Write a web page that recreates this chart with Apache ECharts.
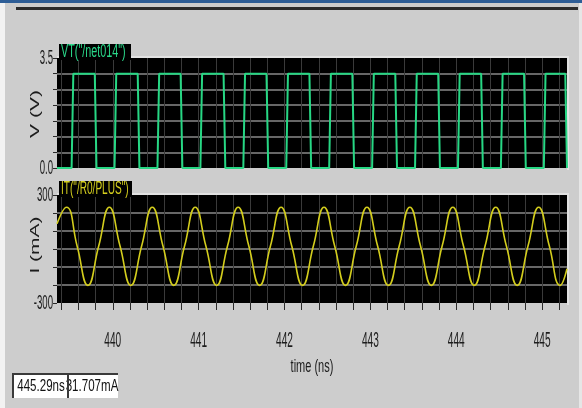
<!DOCTYPE html>
<html>
<head>
<meta charset="utf-8">
<script src="https://cdn.jsdelivr.net/npm/echarts@6/dist/echarts.min.js"></script>
<style>
  html, body { margin: 0; padding: 0; background: #cdcdcd; }
  #chart { width: 582px; height: 408px; }
</style>
</head>
<body>
<div id="chart"></div>
<script>
const FONT = "'Liberation Sans', Arial, sans-serif";

// Time window of the transient plot (ns)
const tStart = 439.35;
const tEnd = 445.29;

// VT("/net014"): clock node voltage (ns, V)
const vTime = [439.35,
  439.52, 439.54, 439.79, 439.81,
  440.02, 440.04, 440.29, 440.31,
  440.52, 440.54, 440.79, 440.81,
  441.02, 441.04, 441.29, 441.31,
  441.52, 441.54, 441.79, 441.81,
  442.02, 442.04, 442.29, 442.31,
  442.52, 442.54, 442.79, 442.81,
  443.02, 443.04, 443.29, 443.31,
  443.52, 443.54, 443.79, 443.81,
  444.02, 444.04, 444.29, 444.31,
  444.52, 444.54, 444.79, 444.81,
  445.02, 445.04, 445.27, 445.29];
const vVolt = [0.0,
  0.0, 3.0, 3.0, 0.0,
  0.0, 3.0, 3.0, 0.0,
  0.0, 3.0, 3.0, 0.0,
  0.0, 3.0, 3.0, 0.0,
  0.0, 3.0, 3.0, 0.0,
  0.0, 3.0, 3.0, 0.0,
  0.0, 3.0, 3.0, 0.0,
  0.0, 3.0, 3.0, 0.0,
  0.0, 3.0, 3.0, 0.0,
  0.0, 3.0, 3.0, 0.0,
  0.0, 3.0, 3.0, 0.0,
  0.0, 3.0, 3.0, 0.0];

// IT("/R0/PLUS"): load current (ns, mA)
const iTime = [439.35,
  439.46, 439.585, 439.71, 439.835,
  439.96, 440.085, 440.21, 440.335,
  440.46, 440.585, 440.71, 440.835,
  440.96, 441.085, 441.21, 441.335,
  441.46, 441.585, 441.71, 441.835,
  441.96, 442.085, 442.21, 442.335,
  442.46, 442.585, 442.71, 442.835,
  442.96, 443.085, 443.21, 443.335,
  443.46, 443.585, 443.71, 443.835,
  443.96, 444.085, 444.21, 444.335,
  444.46, 444.585, 444.71, 444.835,
  444.96, 445.085, 445.21, 445.29];
const iMilliAmp = [140,
  232, 15, -202, 15,
  232, 15, -202, 15,
  232, 15, -202, 15,
  232, 15, -202, 15,
  232, 15, -202, 15,
  232, 15, -202, 15,
  232, 15, -202, 15,
  232, 15, -202, 15,
  232, 15, -202, 15,
  232, 15, -202, 15,
  232, 15, -202, 15,
  232, 15, -202, -110];

// Axis ticks and labels
const majorTicks = [440, 441, 442, 443, 444, 445];
const minorTicks = [439.4, 439.6, 439.8, 440.0, 440.2, 440.4, 440.6, 440.8,
  441.0, 441.2, 441.4, 441.6, 441.8, 442.0, 442.2, 442.4, 442.6, 442.8,
  443.0, 443.2, 443.4, 443.6, 443.8, 444.0, 444.2, 444.4, 444.6, 444.8,
  445.0, 445.2];
const vTickLabels = [[3.5, '3.5'], [0, '0.0']];
const iTickLabels = [[300, '300'], [-300, '-300']];

// Cursor readout
const cursorTime = '445.29ns';
const cursorValue = '31.707mA';

const pair = (xs, ys) => xs.map((x, k) => [x, ys[k]]);

const chart = echarts.init(document.getElementById('chart'), null, { renderer: 'canvas' });

const gridLineAxis = (gridIndex, len) => ({
  type: 'value', gridIndex, min: tStart, max: tEnd, position: 'bottom',
  axisLine: { show: false }, axisLabel: { show: false }, splitLine: { show: false },
  axisTick: { show: true, inside: true, length: len, customValues: minorTicks,
    lineStyle: { color: '#3a3a3a', width: 1 } }
});

const yAxisBase = (gridIndex, min, max, interval) => ({
  type: 'value', gridIndex, min, max, interval,
  axisLine: { show: false },
  axisTick: { show: true, length: 4, lineStyle: { color: '#2a2a2a' } },
  axisLabel: { show: false },
  splitLine: { show: true, showMinLine: false, showMaxLine: false,
    lineStyle: { color: '#676767', width: 2 } }
});

chart.setOption({
  animation: false,
  backgroundColor: '#cdcdcd',
  grid: [
    { left: 57, top: 58, width: 510, height: 110, show: true, backgroundColor: '#000', borderWidth: 0, outerBoundsMode: 'none' },
    { left: 57, top: 195, width: 510, height: 108, show: true, backgroundColor: '#000', borderWidth: 0, outerBoundsMode: 'none' }
  ],
  xAxis: [
    gridLineAxis(0, 110),
    {
      type: 'value', gridIndex: 1, min: tStart, max: tEnd, position: 'bottom',
      axisLine: { show: false }, splitLine: { show: false }, axisLabel: { show: false },
      axisTick: { show: true, length: 15, customValues: majorTicks, lineStyle: { color: '#2a2a2a', width: 1 } }
    },
    {
      type: 'value', gridIndex: 1, min: tStart, max: tEnd, position: 'bottom',
      axisLine: { show: false }, axisLabel: { show: false }, splitLine: { show: false },
      axisTick: { show: true, length: 7, customValues: minorTicks, lineStyle: { color: '#2a2a2a', width: 1 } }
    },
    gridLineAxis(1, 108)
  ],
  yAxis: [
    yAxisBase(0, 0, 3.5, 0.5),
    yAxisBase(1, -300, 300, 100)
  ],
  series: [
    {
      name: 'VT("/net014")', type: 'line', xAxisIndex: 0, yAxisIndex: 0,
      data: pair(vTime, vVolt), showSymbol: false, clip: false,
      lineStyle: { color: '#27d784', width: 2 }, z: 3
    },
    {
      name: 'IT("/R0/PLUS")', type: 'line', xAxisIndex: 1, yAxisIndex: 1,
      data: pair(iTime, iMilliAmp), showSymbol: false, smooth: 0.5,
      lineStyle: { color: '#d3cd1d', width: 1.6 }, z: 3
    }
  ]
});

// Narrow (horizontally compressed) text, as the simulator's waveform window draws it
const txt = (x, y, text, size, opts) => {
  const o = Object.assign({ scaleX: 0.5, scaleY: 1, rotation: 0, align: 'center', fill: '#1c1c1c', z: 20 }, opts || {});
  return {
    type: 'text', x, y, silent: true, z: o.z, scaleX: o.scaleX, scaleY: o.scaleY, rotation: o.rotation,
    style: { text, fill: o.fill, font: size + 'px ' + FONT, align: o.align, verticalAlign: 'middle' }
  };
};

const g = [];
// window chrome
g.push({ type: 'rect', shape: { x: 0, y: 0, width: 582, height: 3 }, style: { fill: '#2d5d96' }, silent: true });
g.push({ type: 'rect', shape: { x: 0, y: 3, width: 5, height: 405 }, style: { fill: '#f2f2f2' }, silent: true });
g.push({ type: 'rect', shape: { x: 579, y: 3, width: 3, height: 405 }, style: { fill: '#e6e6e6' }, silent: true });
g.push({ type: 'rect', shape: { x: 16, y: 7, width: 562, height: 3 }, style: { fill: '#2b2b2b' }, silent: true });
// light rims around the plot panels
g.push({ type: 'rect', shape: { x: 57, y: 56, width: 512, height: 2 }, style: { fill: '#e2e2e2' }, silent: true });
g.push({ type: 'rect', shape: { x: 567, y: 56, width: 2, height: 114 }, style: { fill: '#e2e2e2' }, silent: true });
g.push({ type: 'rect', shape: { x: 57, y: 193, width: 512, height: 2 }, style: { fill: '#e2e2e2' }, silent: true });
g.push({ type: 'rect', shape: { x: 567, y: 193, width: 2, height: 112 }, style: { fill: '#e2e2e2' }, silent: true });

// x tick labels placed through the time axis scale
majorTicks.forEach(v => {
  const px = chart.convertToPixel({ xAxisIndex: 1 }, v);
  g.push(txt(px, 341, String(v), 22, { scaleX: 0.46 }));
});
// y tick labels placed through the value axes
vTickLabels.forEach(([v, s]) => {
  const py = chart.convertToPixel({ yAxisIndex: 0 }, v);
  g.push(txt(53, py, s, 20, { align: 'right', scaleX: 0.48 }));
});
iTickLabels.forEach(([v, s]) => {
  const py = chart.convertToPixel({ yAxisIndex: 1 }, v);
  g.push(txt(53, py, s, 20, { align: 'right', scaleX: 0.48 }));
});

// axis titles
g.push(txt(312, 367, 'time (ns)', 19, { scaleX: 0.58 }));
g.push(txt(35, 114, 'V (V)', 21, { rotation: Math.PI / 2, scaleX: 1, scaleY: 0.62 }));
g.push(txt(35, 245, 'I (mA)', 21, { rotation: Math.PI / 2, scaleX: 1, scaleY: 0.62 }));

// trace name tags
g.push({ type: 'rect', shape: { x: 59, y: 44, width: 72, height: 16 }, style: { fill: '#000' }, z: 10, silent: true });
g.push(txt(61, 52, 'VT("/net014")', 18, { align: 'left', scaleX: 0.6, fill: '#2ad98a' }));
g.push({ type: 'rect', shape: { x: 59, y: 181, width: 73, height: 16 }, style: { fill: '#000' }, z: 10, silent: true });
g.push(txt(61, 189, 'IT("/R0/PLUS")', 18, { align: 'left', scaleX: 0.56, fill: '#d6d01e' }));

// cursor readout box
g.push({ type: 'rect', shape: { x: 12, y: 373, width: 106, height: 25 }, style: { fill: '#fff' }, silent: true, z: 15 });
g.push(txt(41, 386, cursorTime, 17, { scaleX: 0.68, z: 16, fill: '#111' }));
g.push(txt(92, 386, cursorValue, 17, { scaleX: 0.68, z: 16, fill: '#111' }));
g.push({ type: 'rect', shape: { x: 12, y: 373, width: 106, height: 2 }, style: { fill: '#3a3a3a' }, silent: true, z: 17 });
g.push({ type: 'rect', shape: { x: 12, y: 373, width: 2, height: 25 }, style: { fill: '#3a3a3a' }, silent: true, z: 17 });
g.push({ type: 'rect', shape: { x: 67, y: 373, width: 2, height: 25 }, style: { fill: '#3a3a3a' }, silent: true, z: 17 });

chart.setOption({ graphic: g });
</script>
</body>
</html>
